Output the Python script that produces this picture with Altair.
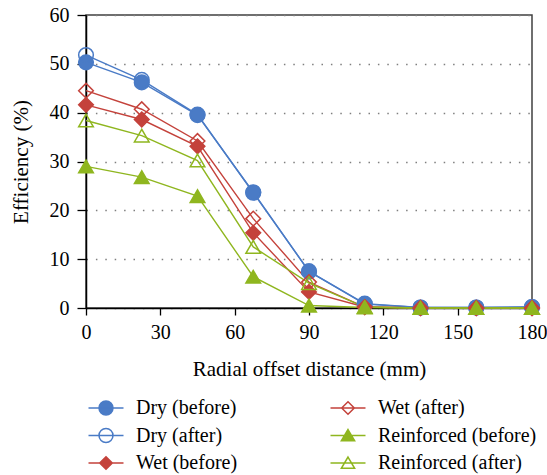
import altair as alt
import pandas as pd

distance = [0, 22.5, 45, 67.5, 90, 112.5, 135, 157.5, 180]
dry_before = [50.3, 46.2, 39.5, 23.7, 7.5, 0.9, 0.1, 0.1, 0.2]
dry_after = [51.8, 46.7, 39.6, 23.6, 7.5, 0.8, 0.1, 0.1, 0.2]
wet_before = [41.6, 38.6, 33.1, 15.4, 3.3, 0.2, 0.0, 0.0, 0.0]
wet_after = [44.5, 40.7, 34.2, 18.3, 5.3, 0.2, 0.0, 0.0, 0.0]
reinf_before = [29.0, 26.8, 22.9, 6.4, 0.5, 0.1, 0.0, 0.0, 0.0]
reinf_after = [38.4, 35.3, 30.2, 12.5, 5.1, 0.2, 0.0, 0.0, 0.0]

series_names = ["Dry (before)", "Dry (after)", "Wet (before)", "Wet (after)",
                "Reinforced (before)", "Reinforced (after)"]
series_values = [dry_before, dry_after, wet_before, wet_after, reinf_before, reinf_after]

BLUE, RED, GREEN = "#4a7bc6", "#c4423b", "#8fb61f"
colors = {"Dry (before)": BLUE, "Dry (after)": BLUE, "Wet (before)": RED,
          "Wet (after)": RED, "Reinforced (before)": GREEN, "Reinforced (after)": GREEN}
shapes = {"Dry (before)": "circle", "Dry (after)": "circle", "Wet (before)": "diamond",
          "Wet (after)": "diamond", "Reinforced (before)": "triangle-up",
          "Reinforced (after)": "triangle-up"}
filled = {"Dry (before)": True, "Dry (after)": False, "Wet (before)": True,
          "Wet (after)": False, "Reinforced (before)": True, "Reinforced (after)": False}
sizes = {"circle": 215, "diamond": 150, "triangle-up": 180}

rows = []
for name, vals in zip(series_names, series_values):
    for d, v in zip(distance, vals):
        rows.append({"distance": d, "efficiency": v, "series": name})
df = pd.DataFrame(rows)

color_scale = alt.Scale(domain=series_names, range=[colors[s] for s in series_names])
fill_scale = alt.Scale(domain=series_names,
                       range=[colors[s] if filled[s] else "transparent" for s in series_names])
shape_scale = alt.Scale(domain=series_names, range=[shapes[s] for s in series_names])
size_scale = alt.Scale(domain=series_names, range=[sizes[shapes[s]] for s in series_names])

LINE = "M-2.5,0H2.5"
legend_paths = {
    "circle": LINE + "M-1,0A1,1,0,1,0,1,0A1,1,0,1,0,-1,0Z",
    "diamond": LINE + "M0,-0.9L0.9,0L0,0.9L-0.9,0Z",
    "triangle-up": LINE + "M0,-0.85L0.95,0.75L-0.95,0.75Z",
}
lg_shape = alt.Scale(domain=series_names, range=[legend_paths[shapes[s]] for s in series_names])

FONT = "Liberation Serif"

legend = alt.Legend(
    title=None, orient="none", legendX=10, legendY=383, columns=2,
    columnPadding=89, rowPadding=7.5, padding=0,
    symbolSize=196, symbolStrokeWidth=1.5, symbolOpacity=1,
    labelFont=FONT, labelFontSize=20, labelColor="black", labelOffset=20,
    labelLimit=300,
)

x_enc = alt.X("distance:Q", scale=alt.Scale(domain=[0, 180], nice=False),
              axis=alt.Axis(values=[0, 30, 60, 90, 120, 150, 180], title="Radial offset distance (mm)",
                            grid=False, tickSize=7, labelPadding=7, titlePadding=16,
                            labelFlush=False))
y_enc = alt.Y("efficiency:Q", scale=alt.Scale(domain=[0, 60], nice=False),
              axis=alt.Axis(values=[0, 10, 20, 30, 40, 50, 60], title="Efficiency (%)",
                            grid=True, gridColor="#7f7f7f", gridDash=[1.5, 7.9], gridWidth=1.3,
                            tickSize=9, labelPadding=8, titlePadding=18, labelFlush=False))

lines = alt.Chart(df).mark_line(strokeWidth=1.4).encode(
    x=x_enc, y=y_enc,
    stroke=alt.Stroke("series:N", scale=color_scale, legend=None),
    detail="series:N",
)

points = alt.Chart(df).mark_point(filled=False, strokeWidth=1.5, opacity=1).encode(
    x=x_enc, y=y_enc,
    color=alt.Color("series:N", scale=color_scale, legend=None),
    fill=alt.Fill("series:N", scale=fill_scale, legend=None),
    shape=alt.Shape("series:N", scale=shape_scale, legend=None),
    size=alt.Size("series:N", scale=size_scale, legend=None),
)

# legend-only layer: draws nothing in the plot, provides the legend with line+marker symbols
legend_layer = alt.Chart(df).transform_filter("datum.efficiency < -1000").mark_point(
    filled=False, strokeWidth=1.5, opacity=1
).encode(
    x=x_enc, y=y_enc,
    color=alt.Color("series:N", scale=color_scale, legend=legend),
    fill=alt.Fill("series:N", scale=fill_scale, legend=legend),
    shape=alt.Shape("series:N", scale=lg_shape, legend=legend),
)

chart = alt.layer(lines, points, legend_layer).resolve_scale(
    color="independent", fill="independent", shape="independent"
).properties(
    width=446, height=293,
    background="white",
    autosize=alt.AutoSizeParams(type="none"),
    padding={"left": 86, "top": 15, "right": 15, "bottom": 167},
).configure_view(
    stroke="#404040", strokeWidth=1.5
).configure_axis(
    labelFont=FONT, titleFont=FONT, labelFontSize=20, titleFontSize=21,
    labelColor="black", titleColor="black", titleFontWeight="normal",
    domainColor="black", domainWidth=1.5, tickColor="black", tickWidth=1.3,
).configure_legend(
    labelFont=FONT, labelFontSize=20, labelColor="black",
)

chart.save("out.html", embed_options={"renderer": "svg", "actions": False})
